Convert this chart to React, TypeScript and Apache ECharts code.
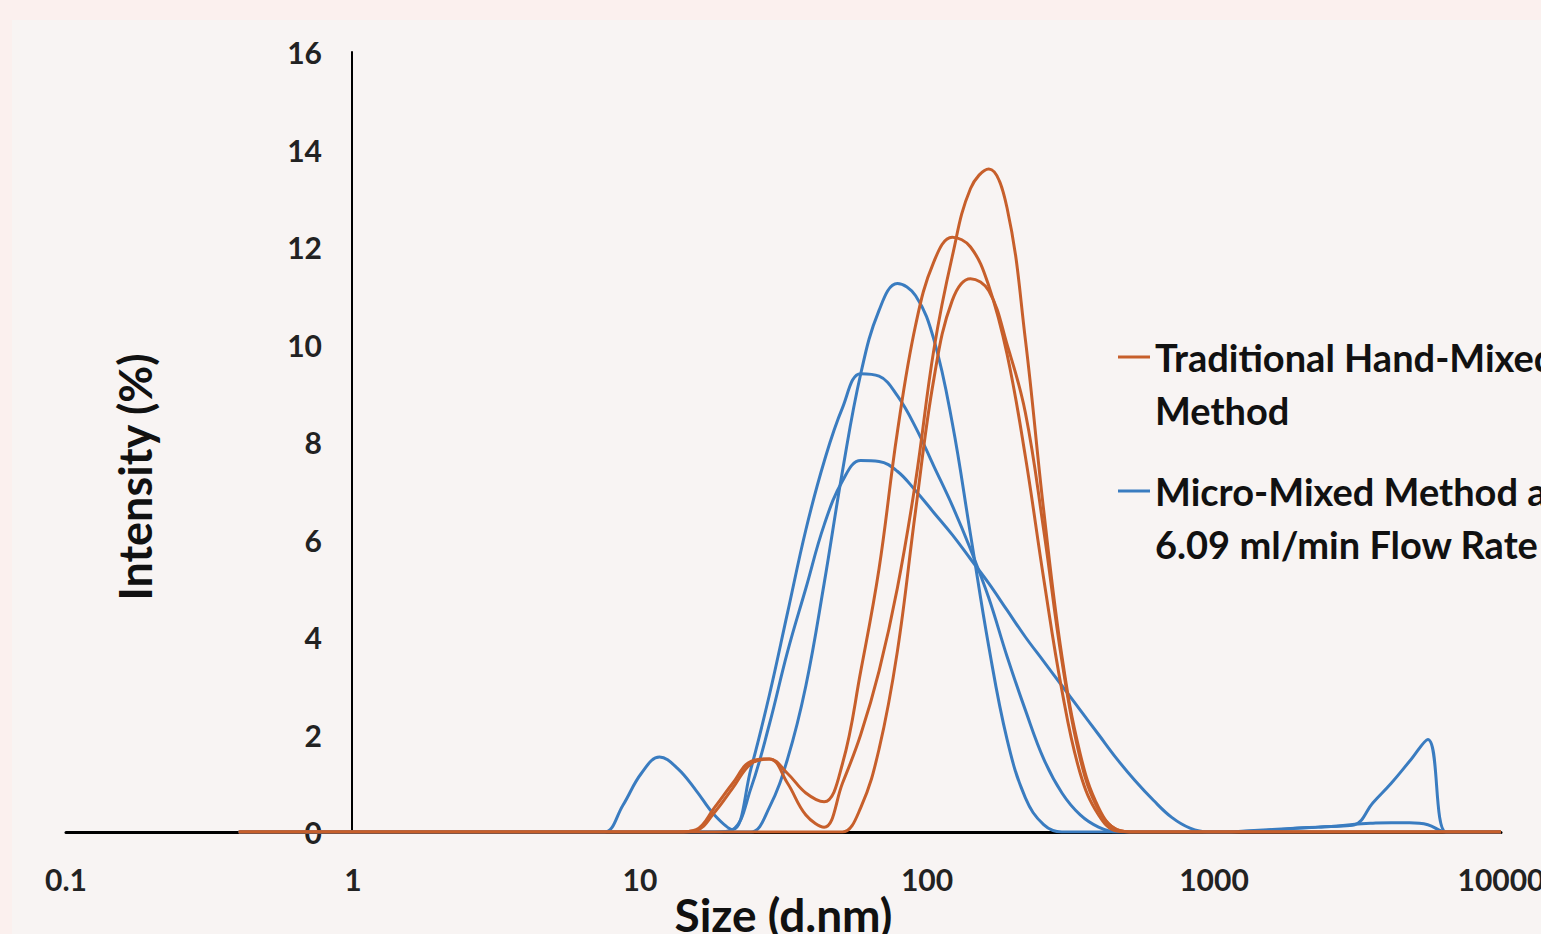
import React, { useEffect, useRef } from "react";
import * as echarts from "echarts";

// DLS size bins (d.nm)
const sizes = [
  0.4, 0.4632, 0.5365, 0.6213, 0.7195, 0.8332, 0.9649, 1.117, 1.294, 1.499,
  1.736, 2.01, 2.328, 2.696, 3.122, 3.615, 4.187, 4.849, 5.615, 6.503,
  7.531, 8.721, 10.1, 11.7, 13.54, 15.69, 18.17, 21.04, 24.36, 28.21,
  32.67, 37.84, 43.82, 50.75, 58.77, 68.06, 78.82, 91.28, 105.7, 122.4,
  141.8, 164.2, 190.1, 220.2, 255, 295.3, 342, 396.1, 458.7, 531.2,
  615.1, 712.4, 825, 955.4, 1106, 1281, 1484, 1718, 1990, 2305,
  2669, 3091, 3580, 4145, 4801, 5560, 6439, 7456, 8635, 10000,
];

// Micro-mixed runs (blue)
const micro1 = [
  0, 0, 0, 0, 0, 0, 0, 0, 0, 0,
  0, 0, 0, 0, 0, 0, 0, 0, 0, 0,
  0, 0, 0, 0, 0, 0, 0, 0, 0, 0.5,
  1.5, 3.0, 5.1, 7.4, 9.4, 10.7, 11.25, 11.0, 10.1, 8.4,
  6.1, 3.8, 1.9, 0.7, 0.15, 0, 0, 0, 0, 0,
  0, 0, 0, 0, 0, 0.02, 0.04, 0.06, 0.08, 0.1,
  0.12, 0.15, 0.6, 1.0, 1.45, 1.9, 0, 0, 0, 0,
];
const micro2 = [
  0, 0, 0, 0, 0, 0, 0, 0, 0, 0,
  0, 0, 0, 0, 0, 0, 0, 0, 0, 0,
  0, 0.55, 1.2, 1.54, 1.3, 0.85, 0.35, 0.05, 1.3, 2.8,
  4.5, 6.2, 7.6, 8.7, 9.4, 9.35, 8.95, 8.3, 7.5, 6.7,
  5.8, 4.8, 3.6, 2.5, 1.5, 0.8, 0.35, 0.1, 0, 0,
  0, 0, 0, 0, 0, 0, 0, 0, 0, 0,
  0, 0, 0, 0, 0, 0, 0, 0, 0, 0,
];
const micro3 = [
  0, 0, 0, 0, 0, 0, 0, 0, 0, 0,
  0, 0, 0, 0, 0, 0, 0, 0, 0, 0,
  0, 0, 0, 0, 0, 0, 0, 0.05, 0.9, 2.2,
  3.7, 5.0, 6.3, 7.2, 7.62, 7.6, 7.4, 7.0, 6.55, 6.1,
  5.6, 5.1, 4.55, 4.0, 3.5, 3.0, 2.5, 2.0, 1.5, 1.05,
  0.65, 0.3, 0.08, 0, 0, 0.01, 0.03, 0.05, 0.08, 0.1,
  0.12, 0.16, 0.18, 0.19, 0.19, 0.15, 0, 0, 0, 0,
];

// Traditional hand-mixed runs (orange)
const hand1 = [
  0, 0, 0, 0, 0, 0, 0, 0, 0, 0,
  0, 0, 0, 0, 0, 0, 0, 0, 0, 0,
  0, 0, 0, 0, 0, 0.05, 0.5, 1.0, 1.45, 1.5,
  1.0, 0.35, 0.1, 1.0, 2.0, 3.3, 5.0, 7.2, 9.9, 11.8,
  13.2, 13.6, 12.8, 10.1, 6.6, 3.6, 1.6, 0.5, 0.05, 0,
  0, 0, 0, 0, 0, 0, 0, 0, 0, 0,
  0, 0, 0, 0, 0, 0, 0, 0, 0, 0,
];
const hand2 = [
  0, 0, 0, 0, 0, 0, 0, 0, 0, 0,
  0, 0, 0, 0, 0, 0, 0, 0, 0, 0,
  0, 0, 0, 0, 0, 0.03, 0.4, 0.9, 1.4, 1.5,
  1.2, 0.8, 0.62, 1.4, 3.3, 5.4, 8.2, 10.4, 11.7, 12.2,
  12.0, 11.2, 9.8, 7.7, 5.2, 2.9, 1.2, 0.35, 0.02, 0,
  0, 0, 0, 0, 0, 0, 0, 0, 0, 0,
  0, 0, 0, 0, 0, 0, 0, 0, 0, 0,
];
const hand3 = [
  0, 0, 0, 0, 0, 0, 0, 0, 0, 0,
  0, 0, 0, 0, 0, 0, 0, 0, 0, 0,
  0, 0, 0, 0, 0, 0, 0, 0, 0, 0,
  0, 0, 0, 0, 0.5, 1.7, 3.7, 6.6, 9.3, 10.9,
  11.35, 11.1, 10.0, 8.6, 6.2, 3.5, 1.5, 0.45, 0.05, 0,
  0, 0, 0, 0, 0, 0, 0, 0, 0, 0,
  0, 0, 0, 0, 0, 0, 0, 0, 0, 0,
];

const xTickLabels = ["0.1", "1", "10", "100", "1000", "10000"];
const legendHand = ["Traditional Hand-Mixed", "Method"];
const legendMicro = ["Micro-Mixed Method at", "6.09 ml/min Flow Rate"];
const handName = "Traditional Hand-Mixed Method";
const microName = "Micro-Mixed Method at 6.09 ml/min Flow Rate";

const ORANGE = "#c75f2b";
const BLUE = "#3a7cc0";
const FONT = "Lato";

function pairs(ys: number[]) {
  return sizes.map((s, i) => [s, ys[i]]);
}

export default function App() {
  const ref = useRef<HTMLDivElement>(null);
  useEffect(() => {
    if (!ref.current) return;
    const chart = echarts.init(ref.current, undefined, { renderer: "svg", width: 1541, height: 934 });
    const mk = (name: string, ys: number[], color: string) => ({
      type: "line",
      name,
      data: pairs(ys),
      smooth: 0.4,
      showSymbol: false,
      symbol: "none",
      lineStyle: { color, width: 3 },
      itemStyle: { color },
      z: 3,
    });
    chart.setOption({
      animation: false,
      backgroundColor: "#f8f4f3",
      grid: {
        left: 66,
        top: 52,
        width: 1435,
        height: 780,
        containLabel: false,
        outerBoundsMode: "none",
      },
      xAxis: {
        type: "log",
        logBase: 10,
        min: 0.1,
        max: 10000,
        name: "Size (d.nm)",
        nameLocation: "middle",
        nameGap: 59,
        nameMoveOverlap: false,
        nameTextStyle: { fontFamily: FONT, fontWeight: "bold", fontSize: 46, color: "#111" },
        axisLine: { show: true, lineStyle: { color: "#000", width: 3 } },
        axisTick: { show: false },
        splitLine: { show: false },
        axisLabel: {
          margin: 32,
          fontFamily: FONT,
          fontWeight: "bold",
          fontSize: 30,
          color: "#222",
          formatter: (v: number) => xTickLabels[Math.round(Math.log10(v)) + 1] ?? String(v),
        },
      },
      yAxis: {
        type: "value",
        min: 0,
        max: 16,
        interval: 2,
        offset: -286,
        name: "Intensity (%)",
        nameLocation: "middle",
        nameGap: 195,
        nameMoveOverlap: false,
        nameTextStyle: {
          fontFamily: FONT,
          fontWeight: "bold",
          fontSize: 45,
          color: "#111",
          padding: [0, 70, 0, 0],
        },
        axisLine: { show: true, lineStyle: { color: "#000", width: 2 } },
        axisTick: { show: false },
        splitLine: { show: false },
        axisLabel: {
          margin: 30,
          fontFamily: FONT,
          fontWeight: "bold",
          fontSize: 30,
          color: "#222",
        },
      },
      graphic: [
        { type: "rect", shape: { x: 0, y: 0, width: 1541, height: 20 }, style: { fill: "#fbf0ee" }, z: -10 },
        { type: "rect", shape: { x: 0, y: 0, width: 12, height: 934 }, style: { fill: "#fbf0ee" }, z: -10 },
        { type: "line", shape: { x1: 1118, y1: 357, x2: 1150, y2: 357 }, style: { stroke: ORANGE, lineWidth: 3 } },
        {
          type: "text",
          x: 1155,
          y: 357 - 26.5,
          style: {
            text: legendHand.join("\n"),
            fontFamily: FONT,
            fontWeight: "bold",
            fontSize: 38,
            lineHeight: 53,
            fill: "#111",
            verticalAlign: "top",
          },
        },
        { type: "line", shape: { x1: 1118, y1: 491, x2: 1150, y2: 491 }, style: { stroke: BLUE, lineWidth: 3 } },
        {
          type: "text",
          x: 1155,
          y: 491 - 26.5,
          style: {
            text: legendMicro.join("\n"),
            fontFamily: FONT,
            fontWeight: "bold",
            fontSize: 38,
            lineHeight: 53,
            fill: "#111",
            verticalAlign: "top",
          },
        },
      ],
      series: [
        mk(microName, micro1, BLUE),
        mk(microName, micro2, BLUE),
        mk(microName, micro3, BLUE),
        mk(handName, hand1, ORANGE),
        mk(handName, hand2, ORANGE),
        mk(handName, hand3, ORANGE),
      ],
    });
    return () => chart.dispose();
  }, []);
  return (
    <div
      ref={ref}
      style={{ position: "fixed", left: 0, top: 0, width: 1541, height: 934 }}
    />
  );
}
